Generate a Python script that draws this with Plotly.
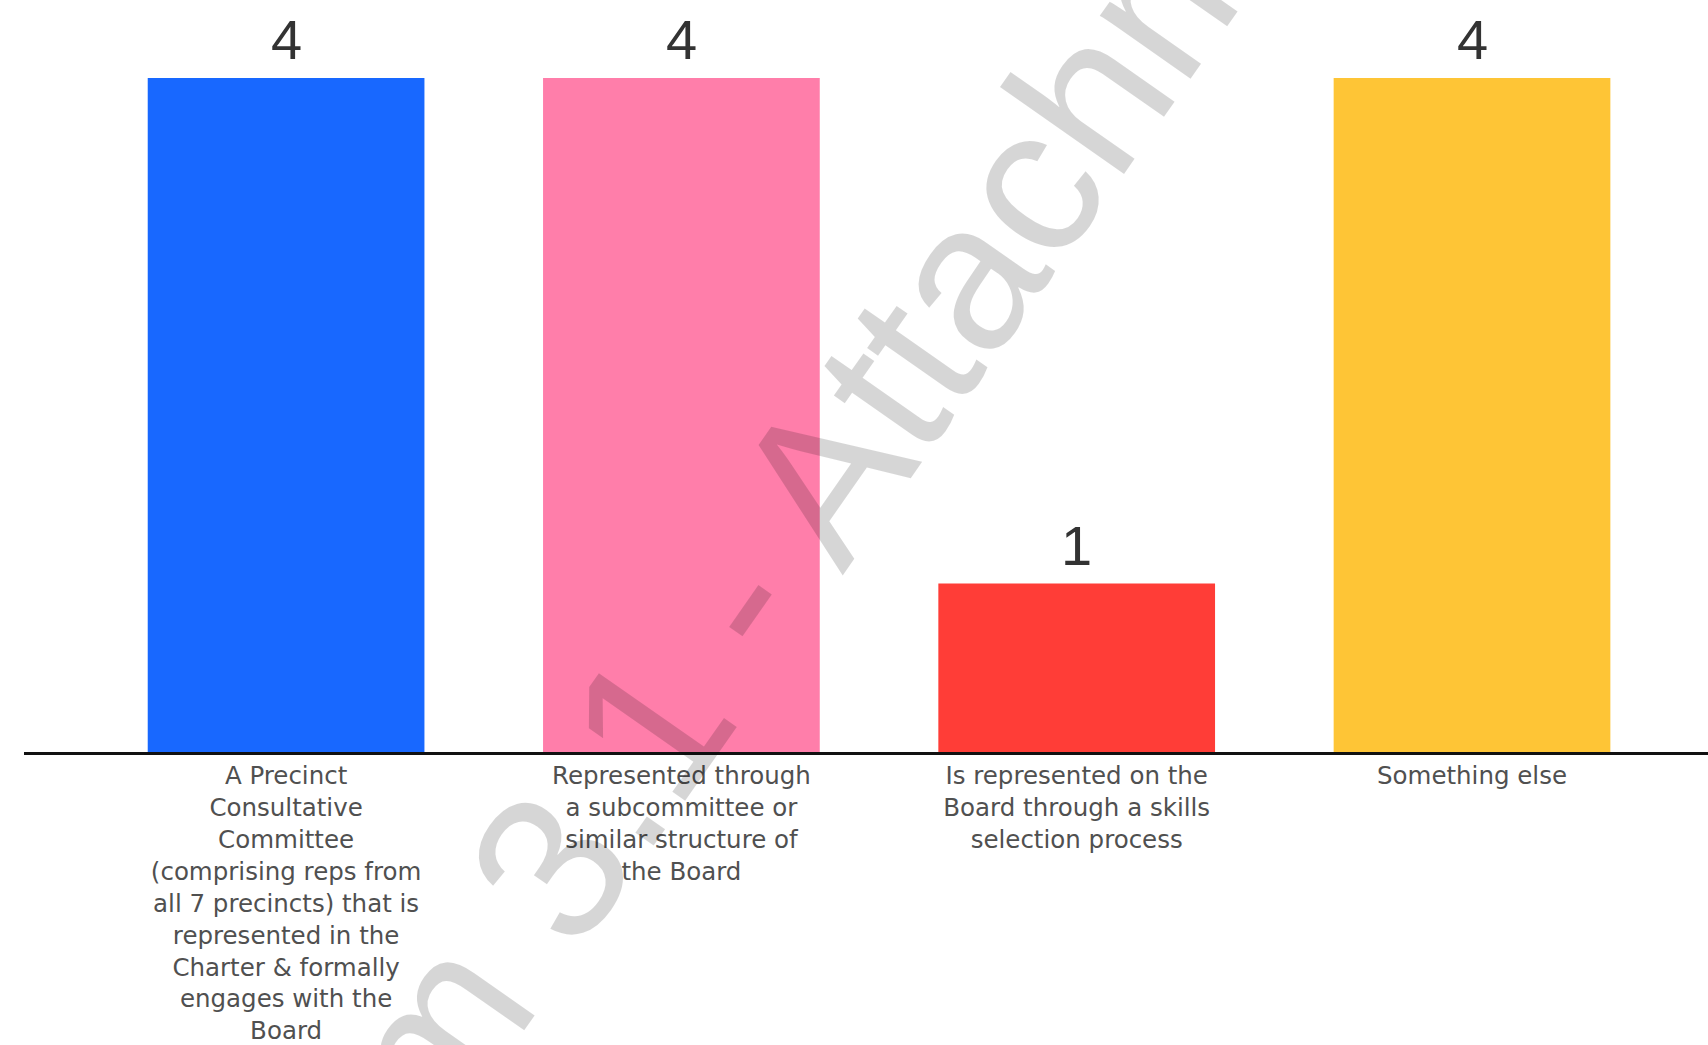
import plotly.graph_objects as go

# Survey responses: how precincts should be represented
categories = [
    "A Precinct Consultative Committee",
    "Represented through a subcommittee",
    "Represented on the Board via skills selection",
    "Something else",
]
tick_labels = [
    "A Precinct<br>Consultative<br>Committee<br>(comprising reps from<br>all 7 precincts) that is<br>represented in the<br>Charter & formally<br>engages with the<br>Board",
    "Represented through<br>a subcommittee or<br>similar structure of<br>the Board",
    "Is represented on the<br>Board through a skills<br>selection process",
    "Something else",
]
counts = [4, 4, 1, 4]
bar_colors = ["#1868ff", "#ff7eaa", "#ff3d37", "#fec536"]

watermark = "Item 3.1 - Attachment 1"

W, H = 1708, 1045
M_L, M_R, M_T, M_B = 24, 0, 10, 293
plot_w = W - M_L - M_R
plot_h = H - M_T - M_B

fig = go.Figure(
    go.Bar(
        x=categories,
        y=counts,
        width=0.7,
        marker=dict(color=bar_colors, line=dict(width=0)),
        hoverinfo="skip",
    )
)

# value labels sitting above each bar
value_labels = [
    dict(
        x=cat,
        y=val,
        xref="x",
        yref="y",
        text=str(val),
        showarrow=False,
        xanchor="center",
        yanchor="bottom",
        yshift=5,
        font=dict(family="Liberation Sans, Arial, sans-serif", size=56, color="#333333"),
    )
    for cat, val in zip(categories, counts)
]

watermark_note = dict(
    text=watermark,
    xref="paper",
    yref="paper",
    x=(870 - M_L) / plot_w,
    y=(M_T + plot_h - 411) / plot_h,
    xanchor="center",
    yanchor="middle",
    showarrow=False,
    textangle=-55,
    font=dict(family="Liberation Sans, Arial, sans-serif", size=209, color="rgba(0,0,0,0.16)"),
)

fig.update_layout(
    width=W,
    height=H,
    margin=dict(l=M_L, r=M_R, t=M_T, b=M_B),
    paper_bgcolor="white",
    plot_bgcolor="white",
    showlegend=False,
    xaxis=dict(
        type="category",
        range=[-0.663, 3.597],
        tickmode="array",
        tickvals=categories,
        ticktext=tick_labels,
        ticks="",
        showgrid=False,
        zeroline=False,
        showline=True,
        linecolor="#111111",
        linewidth=3,
        tickfont=dict(family="DejaVu Sans, sans-serif", size=24.5, color="#505050"),
    ),
    yaxis=dict(
        range=[0, 4.404],
        visible=False,
        showgrid=False,
        zeroline=False,
    ),
    annotations=value_labels + [watermark_note],
)

fig.write_html("out.html")
